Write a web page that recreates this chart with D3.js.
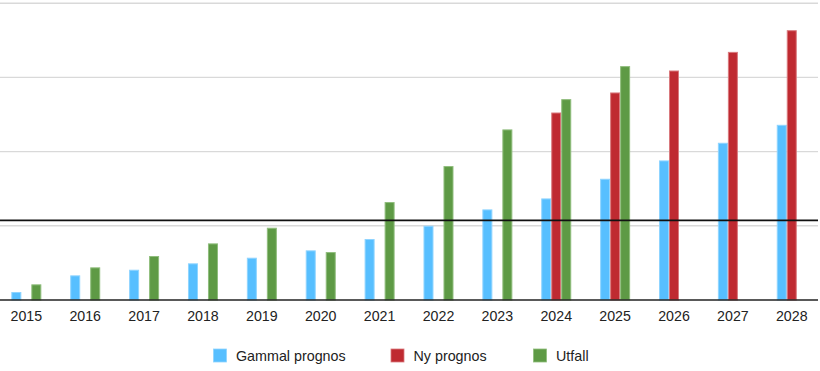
<!DOCTYPE html>
<html>
<head>
<meta charset="utf-8">
<script src="https://cdn.jsdelivr.net/npm/d3@7"></script>
<style>
  html, body { margin: 0; padding: 0; background: #fff; }
  svg { display: block; }
  text { font-family: "Liberation Sans", Arial, Helvetica, sans-serif; }
</style>
</head>
<body>
<svg id="chart" width="820" height="371"></svg>
<script>
const years = ["2015","2016","2017","2018","2019","2020","2021","2022","2023","2024","2025","2026","2027","2028"];
const seriesNames = ["Gammal prognos", "Ny prognos", "Utfall"];
const gammalPrognos = [10.8, 33.2, 40.8, 49.4, 57.0, 66.9, 82.2, 100.1, 122.1, 136.9, 163.4, 188.1, 211.9, 236.1];
const nyPrognos     = [null, null, null, null, null, null, null, null, null, 252.7, 279.7, 309.3, 334.4, 363.6];
const utfall        = [21.1, 44.0, 59.3, 76.3, 97.4, 64.6, 132.0, 180.5, 229.9, 270.7, 315.2, null, null, null];
const yTicks = [0, 100, 200, 300, 400];
const referenceValue = 107.3;

const colors = ["#57bfff", "#bf2a31", "#5e9a45"];
const strokes = ["#8fd4ff", "#d9797d", "#8fbd7c"];
const seriesValues = [gammalPrognos, nyPrognos, utfall];

const svg = d3.select("#chart");
const x = d3.scaleBand().domain(years).range([-3.1, 821.2]).padding(0);
const xs = d3.scaleBand().domain(seriesNames).range([-15, 15]).padding(0);
const y = d3.scaleLinear().domain([0, 400]).range([300, 3.2]);

// gridlines
svg.append("g").selectAll("line").data(yTicks.slice(1)).join("line")
  .attr("x1", 0).attr("x2", 818)
  .attr("y1", d => y(d)).attr("y2", d => y(d))
  .attr("stroke", "#d9d9d9").attr("stroke-width", 1.4);

// bars
seriesNames.forEach((name, si) => {
  const data = years.map((yr, i) => ({ yr, v: seriesValues[si][i] })).filter(d => d.v != null);
  svg.append("g").selectAll("rect").data(data).join("rect")
    .attr("x", d => x(d.yr) + x.bandwidth() / 2 + xs(name) + 0.5)
    .attr("width", xs.bandwidth() - 1)
    .attr("y", d => y(d.v) + 0.5)
    .attr("height", d => y(0) - y(d.v) - 0.5)
    .attr("fill", colors[si])
    .attr("stroke", strokes[si])
    .attr("stroke-width", 1);
});

// baseline
svg.append("line").attr("x1", 0).attr("x2", 818)
  .attr("y1", y(0)).attr("y2", y(0))
  .attr("stroke", "#222").attr("stroke-width", 1.6);

// reference line
svg.append("line").attr("x1", 0).attr("x2", 818)
  .attr("y1", y(referenceValue)).attr("y2", y(referenceValue))
  .attr("stroke", "#111").attr("stroke-width", 1.6);

// x axis
const xAxis = d3.axisBottom(x).tickSize(0).tickPadding(0);
const gx = svg.append("g").attr("transform", "translate(0,300)").call(xAxis);
gx.select(".domain").remove();
gx.selectAll("text")
  .attr("dy", null).attr("y", 21)
  .attr("font-size", 14.2).attr("fill", "#222")
  .style("font-family", '"Liberation Sans", Arial, sans-serif');

// legend
const legendX = [213.5, 391, 533.5];
const lg = svg.append("g");
seriesNames.forEach((name, i) => {
  lg.append("rect").attr("x", legendX[i]).attr("y", 349)
    .attr("width", 13).attr("height", 13)
    .attr("fill", colors[i]).attr("stroke", strokes[i]).attr("stroke-width", 0.8);
  lg.append("text").attr("x", legendX[i] + 22.5).attr("y", 361)
    .attr("font-size", 14.3).attr("fill", "#222").text(name);
});
</script>
</body>
</html>
